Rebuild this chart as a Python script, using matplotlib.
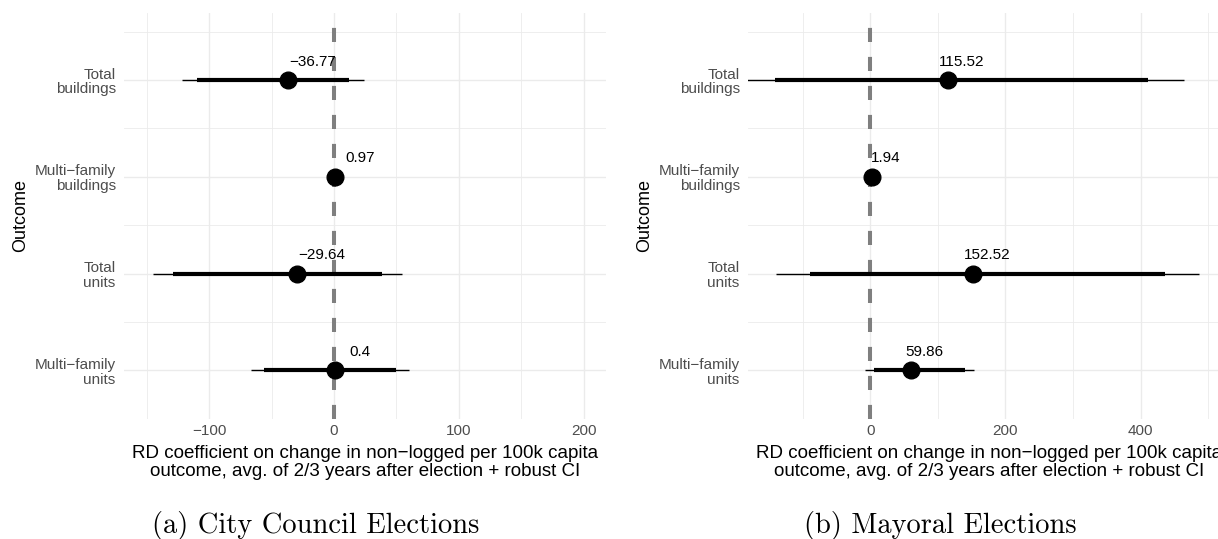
import matplotlib
matplotlib.use("Agg")
import matplotlib.pyplot as plt

plt.rcParams['font.family'] = ['Liberation Sans', 'DejaVu Sans']

# outcomes, top to bottom
outcomes = ["Total\nbuildings", "Multi\u2212family\nbuildings", "Total\nunits", "Multi\u2212family\nunits"]
rows = [4, 3, 2, 1]

# (a) city council elections
council_coef = [-36.77, 0.97, -29.64, 0.40]
council_lo95 = [-121.3, -4.0, -145.2, -66.1]
council_hi95 = [24.1, 6.0, 54.7, 59.8]
council_lo90 = [-109.8, -2.5, -129.1, -56.0]
council_hi90 = [12.3, 4.5, 38.6, 49.7]

# (b) mayoral elections
mayor_coef = [115.52, 1.94, 152.52, 59.86]
mayor_lo95 = [-194.0, -1.0, -139.0, -8.2]
mayor_hi95 = [464.0, 5.0, 486.2, 153.0]
mayor_lo90 = [-141.3, 0.0, -88.8, 4.7]
mayor_hi90 = [411.2, 4.0, 436.0, 140.0]

xlab = ("RD coefficient on change in non\u2212logged per 100k capita\n"
        "outcome, avg. of 2/3 years after election + robust CI")


def fmt(v):
    return str(round(v, 2)).replace('-', '\u2212')


def draw_panel(ax, coef, lo95, hi95, lo90, hi90, xlim, major, minor):
    ax.set_xlim(*xlim)
    ax.set_ylim(0.504, 4.689)
    ax.set_xticks(major)
    ax.set_xticks(minor, minor=True)
    ax.set_yticks(rows)
    ax.set_yticklabels(outcomes, linespacing=1.05)
    ax.set_yticks([1.5, 2.5, 3.5, 4.5], minor=True)
    ax.grid(which='major', color='#EBEBEB', lw=1.0)
    ax.grid(which='minor', color='#EBEBEB', lw=0.6)
    ax.set_axisbelow(True)
    for s in ax.spines.values():
        s.set_visible(False)
    ax.tick_params(which='both', length=0, labelsize=11, labelcolor='#4D4D4D')
    ax.tick_params(axis='x', pad=4)
    ax.tick_params(axis='y', pad=6.2)

    ax.axvline(0, color='#7F7F7F', lw=2.9, dashes=(3.5, 3.7), zorder=1.5)
    ax.hlines(rows, lo95, hi95, color='black', lw=1.0, capstyle='butt', zorder=2)
    ax.hlines(rows, lo90, hi90, color='black', lw=3.0, capstyle='butt', zorder=2)
    ax.plot(coef, rows, 'o', color='black', ms=12, zorder=3)
    for c, r in zip(coef, rows):
        ax.text(c + 20, r + 0.19, fmt(c), ha='center', va='center', fontsize=11, color='black')

    ax.set_xlabel(xlab, fontsize=13.5, linespacing=1.08, labelpad=5)
    ax.set_ylabel("Outcome", fontsize=13)
    ax.yaxis.label.set_va('center')
    ax.yaxis.set_label_coords(-0.2152, 0.5)


fig = plt.figure(figsize=(12.18, 5.39), dpi=100)
W, H = 1218.0, 539.0
ax1 = fig.add_axes([124.3 / W, (H - 418.5) / H, 481.4 / W, 405.2 / H])
ax2 = fig.add_axes([748.3 / W, (H - 418.5) / H, 481.4 / W, 405.2 / H])

draw_panel(ax1, council_coef, council_lo95, council_hi95, council_lo90, council_hi90,
           (-167.8, 217.4), [-100, 0, 100, 200], [-150, -50, 50, 150])
draw_panel(ax2, mayor_coef, mayor_lo95, mayor_hi95, mayor_lo90, mayor_hi90,
           (-180.7, 531.9), [0, 200, 400], [-100, 100, 300, 500])

fig.text(316 / W, (H - 525) / H, "(a) City Council Elections", family='cmr10',
         fontsize=20.5, ha='center', va='center')
fig.text(940 / W, (H - 525) / H, "(b) Mayoral Elections", family='cmr10',
         fontsize=20.5, ha='center', va='center')

fig.savefig("out.png", dpi=100)
